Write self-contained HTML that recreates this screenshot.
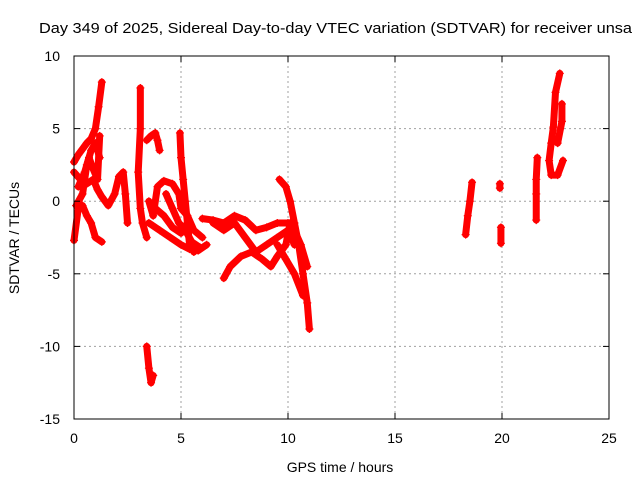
<!DOCTYPE html>
<html><head><meta charset="utf-8"><style>
html,body{margin:0;padding:0;background:#fff;}
svg{display:block;font-family:"Liberation Sans",sans-serif;}
</style></head><body>
<svg id="chart" width="640" height="480" viewBox="0 0 640 480">
<rect width="640" height="480" fill="#fff"/>
<text x="39" y="33" font-size="14.5" textLength="593" lengthAdjust="spacingAndGlyphs">Day 349 of 2025, Sidereal Day-to-day VTEC variation (SDTVAR) for receiver unsa</text>
<g id="grid"></g>
<g id="marks"></g>
<rect x="74" y="56" width="535" height="363" fill="none" stroke="#000" stroke-width="1"/>
<g id="axes" font-size="14"></g>
<text x="340" y="472" font-size="14" text-anchor="middle">GPS time / hours</text>
<text transform="translate(19,238) rotate(-90)" font-size="14" text-anchor="middle">SDTVAR / TECUs</text>
</svg>
<script>
const xTicks=[0,5,10,15,20,25];
const yTicks=[10,5,0,-5,-10,-15];
const trackA1=[[0,2.7],[0.2,3.2],[0.4,3.6],[0.6,4],[0.8,4.3],[1.0,5],[1.15,6.5],[1.3,8.2]];
const trackA2=[[0,2],[0.3,1.5],[0.6,1.2],[0.9,1.5],[1.1,0.8],[1.3,0.3],[1.6,-0.3],[1.9,0.5],[2.1,1.7],[2.3,2],[2.4,0.5],[2.5,-1.5]];
const trackA3=[[0,-2.7],[0.2,-0.5],[0.4,-0.3],[0.6,-1],[0.8,-1.5],[1.0,-2.5],[1.3,-2.8]];
const trackA4=[[0.1,-0.3],[0.4,0.5],[0.6,2.5],[0.8,3.5],[1.0,4],[1.2,3]];
const trackA5=[[0.2,1],[0.5,2],[0.7,3],[0.9,2.2],[1.1,1.5],[1.2,4.5]];
const trackB=[[3.1,7.8],[3.1,5],[3.0,2],[3.1,-0.5],[3.2,-1.5],[3.4,-2.5]];
const trackC=[[3.4,4.2],[3.6,4.5],[3.8,4.7],[3.9,4.2],[4.0,3.5]];
const trackD=[[3.4,-10],[3.5,-11.5],[3.6,-12.5],[3.7,-12]];
const trackE=[[3.5,0],[3.7,-1],[3.9,1],[4.2,1.4],[4.6,1.2],[4.9,0.5],[5.0,-0.5],[5.3,-1],[5.6,-2],[6.0,-2.5]];
const trackE2=[[4.3,0.5],[4.6,-0.5],[4.9,-1.5],[5.2,-2],[5.5,-2.8],[5.9,-3.2]];
const trackF=[[4.95,4.7],[5.0,3],[5.1,1.5],[5.2,0],[5.3,-1.5],[5.4,-3],[5.6,-3.5]];
const trackG=[[3.5,-1.5],[4,-2],[4.5,-2.5],[5,-3],[5.4,-3.3],[5.8,-3.4],[6.2,-3]];
const trackG2=[[3.8,-0.5],[4.2,-1],[4.6,-1.8],[5.0,-2.2]];
const trackH=[[6,-1.2],[6.5,-1.3],[7,-1.5],[7.5,-1],[8,-1.3],[8.5,-2],[9,-1.8],[9.5,-1.5],[10,-1.5],[10.3,-2],[10.6,-3],[10.9,-4.5]];
const trackI=[[6.5,-1.5],[7,-2],[7.5,-1.5],[8,-2.5],[8.5,-3.5],[9,-3],[9.5,-2.5],[10,-2],[10.3,-3]];
const trackJ=[[7,-5.3],[7.3,-4.5],[7.8,-3.8],[8.3,-3.5],[8.8,-4],[9.2,-4.5],[9.5,-3.8],[9.9,-3],[10.1,-1.5]];
const trackK=[[9.6,1.5],[9.9,1],[10.1,0],[10.3,-1.5],[10.5,-3],[10.7,-5],[10.9,-7],[11.0,-8.8]];
const trackL=[[9.5,-3],[9.9,-4],[10.3,-5],[10.7,-6.5]];
const trackM=[[18.3,-2.3],[18.4,-1],[18.5,0],[18.6,1.3]];
const trackN1=[[19.9,1.2],[19.9,0.9]];
const trackN2=[[19.95,-1.8],[19.95,-2.9]];
const trackO=[[21.6,-1.3],[21.6,0.5],[21.6,1.5],[21.65,3]];
const trackP=[[22.7,8.8],[22.5,7.5],[22.4,5.1],[22.3,4],[22.2,2.8],[22.3,1.8],[22.6,1.8],[22.85,2.8]];
const trackQ=[[22.8,6.7],[22.8,5.5],[22.6,4]];
const tracks=[trackA1,trackA2,trackA3,trackA4,trackA5,trackB,trackC,trackD,trackE,trackE2,trackF,trackG,trackG2,trackH,trackI,trackJ,trackK,trackL,trackM,trackN1,trackN2,trackO,trackP,trackQ];

const X0=74,X1=609,Y0=56,Y1=419;
function sx(t){return X0+(t-0)/(25-0)*(X1-X0);}
function sy(v){return Y0+(10-v)/(10-(-15))*(Y1-Y0);}
const NS="http://www.w3.org/2000/svg";
const grid=document.getElementById('grid'),axes=document.getElementById('axes'),marks=document.getElementById('marks');
function mk(tag,attrs,parent){const e=document.createElementNS(NS,tag);for(const k in attrs)e.setAttribute(k,attrs[k]);parent.appendChild(e);return e;}
xTicks.forEach(t=>{
  const x=sx(t);
  if(t>0&&t<25){const g=mk('line',{x1:x,y1:Y0,x2:x,y2:Y1,stroke:'#a0a0a0','stroke-dasharray':'2,3'},grid);
  
  }
  mk('line',{x1:x,y1:Y1,x2:x,y2:Y1-6,stroke:'#000'},axes);
  mk('line',{x1:x,y1:Y0,x2:x,y2:Y0+6,stroke:'#000'},axes);
  const l=mk('text',{x:x,y:Y1+24,'text-anchor':'middle'},axes);l.textContent=t;
  
  
});
yTicks.forEach(v=>{
  const y=sy(v);
  if(v<10&&v>-15){const g=mk('line',{x1:X0,y1:y,x2:X1,y2:y,stroke:'#a0a0a0','stroke-dasharray':'2,3'},grid);
  
  }
  mk('line',{x1:X0,y1:y,x2:X0+6,y2:y,stroke:'#000'},axes);
  mk('line',{x1:X1,y1:y,x2:X1-6,y2:y,stroke:'#000'},axes);
  const l=mk('text',{x:X0-14,y:y+5,'text-anchor':'end'},axes);l.textContent=v;
  
  
});
tracks.forEach((tr,i)=>{
  const g=mk('g',{},marks);
  
  
  const pts=tr.map(p=>sx(p[0])+','+sy(p[1])).join(' ');
  mk('polyline',{points:pts,fill:'none',stroke:'#ff0000','stroke-width':7,'stroke-linejoin':'round','stroke-linecap':'round'},g);
  tr.forEach(p=>{
    const x=sx(p[0]),y=sy(p[1]);
    const m=mk('path',{d:`M${x-4},${y}H${x+4}M${x},${y-4}V${y+4}`,stroke:'#ff0000','stroke-width':1.2},g);
    
    
  });
});
</script>
</body></html>
